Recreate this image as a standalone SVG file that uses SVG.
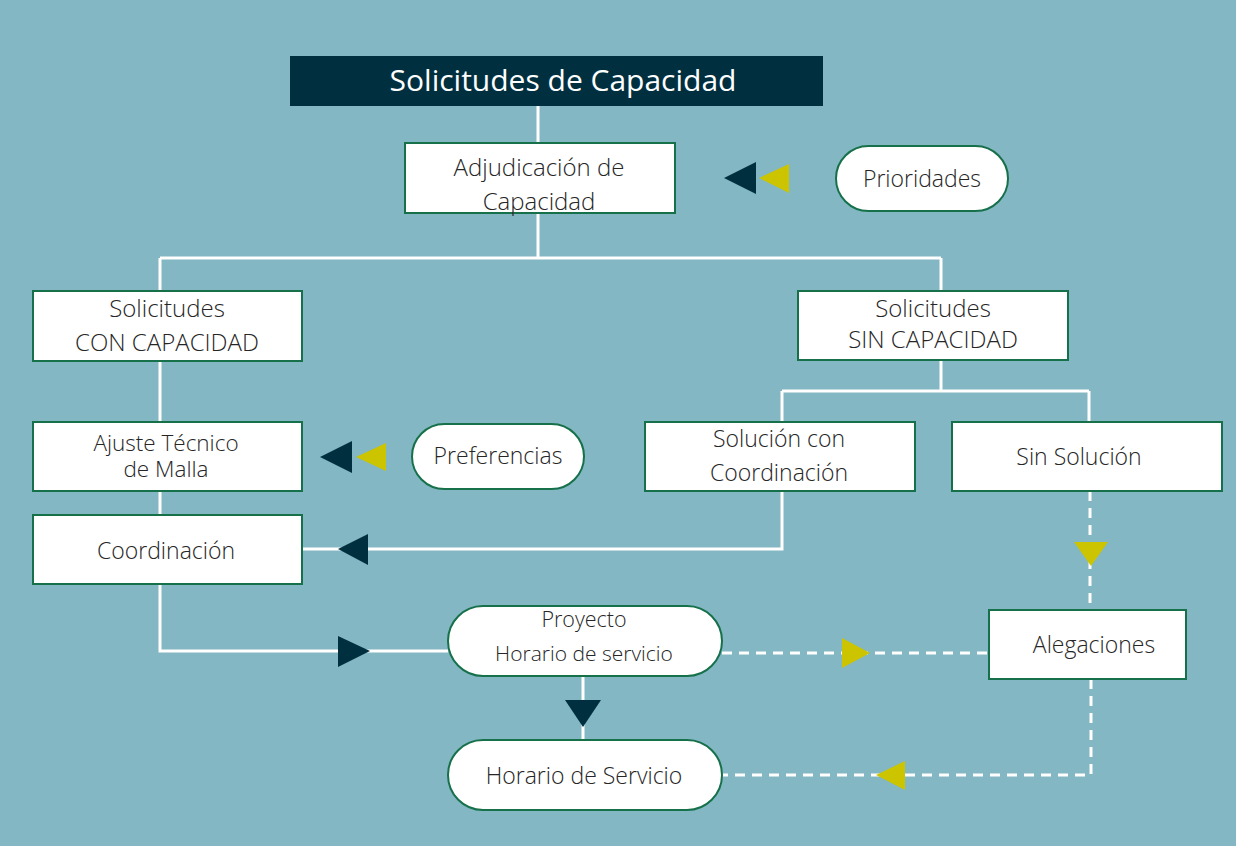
<svg xmlns="http://www.w3.org/2000/svg" width="1236" height="846" viewBox="0 0 1236 846">
<style>
.box{fill:#fff;stroke:#16704a;stroke-width:2}
.t{font-family:"Open Sans","Liberation Sans",sans-serif;font-size:23px;fill:#262626;text-anchor:middle;font-weight:300}
.b{font-size:24px}
.ln{stroke:#fff;stroke-width:3;fill:none}
.dl{stroke:#fff;stroke-width:3;fill:none;stroke-dasharray:10 7}
.dk{fill:#003040}
.yl{fill:#cdc400}
</style>
<rect x="0" y="0" width="1236" height="846" fill="#82b7c3"/>
<g id="connectors">
<path class="ln" d="M538 106V143M538 213V258M160 258H941M160 258V291M941 258V291"/>
<path class="ln" d="M160 361V422M160 491V515"/>
<path class="ln" d="M941 360V391M782 391H1089M782 391V422M1089 391V422"/>
<path class="ln" d="M782 491V549H302"/>
<path class="ln" d="M160 584V651H448"/>
<path class="ln" d="M583 676V740"/>
<path class="dl" d="M1090 491V610"/>
<path class="dl" d="M722 653H989"/>
<path class="dl" d="M1091 679V775H722"/>
<polygon class="dk" points="338,549 368,534 368,565"/>
<polygon class="dk" points="370,651 338,636 338,667"/>
<polygon class="dk" points="583,727 565,700 601,700"/>
<polygon class="yl" points="870,653 842,638 842,668"/>
<polygon class="yl" points="1091,566 1074,542 1108,542"/>
<polygon class="yl" points="876,775 905,761 905,790"/>
<polygon class="dk" points="724,178 756,162 756,194"/>
<polygon class="yl" points="759,178 789,164 789,193"/>
<polygon class="dk" points="320,457 352,441 352,473"/>
<polygon class="yl" points="356,457 386,443 386,471"/>
</g>
<g id="title">
<rect x="290" y="56" width="533" height="50" fill="#003040"/>
<text x="563" y="91" font-family="'Open Sans','Liberation Sans',sans-serif" font-size="30" fill="#fff" text-anchor="middle">Solicitudes de Capacidad</text>
</g>
<g id="adjudicacion">
<rect class="box" x="405" y="143" width="270" height="70"/>
<text class="t b" x="539" y="176">Adjudicación de</text>
<text class="t b" x="539" y="210">Capacidad</text>
</g>
<g id="prioridades">
<rect class="box" x="836" y="146" width="172" height="65" rx="32.5"/>
<text class="t" x="922" y="187">Prioridades</text>
</g>
<g id="con-capacidad">
<rect class="box" x="33" y="291" width="269" height="70"/>
<text class="t b" x="167" y="317">Solicitudes</text>
<text class="t b" x="167" y="351">CON CAPACIDAD</text>
</g>
<g id="sin-capacidad">
<rect class="box" x="798" y="291" width="270" height="69"/>
<text class="t b" x="933" y="317">Solicitudes</text>
<text class="t b" x="933" y="348">SIN CAPACIDAD</text>
</g>
<g id="ajuste">
<rect class="box" x="33" y="422" width="269" height="69"/>
<text class="t" x="166" y="451" style="font-size:22.5px">Ajuste Técnico</text>
<text class="t" x="166" y="477" style="font-size:22.5px">de Malla</text>
</g>
<g id="preferencias">
<rect class="box" x="412" y="424" width="172" height="65" rx="32.5"/>
<text class="t" x="498" y="464">Preferencias</text>
</g>
<g id="solucion-coordinacion">
<rect class="box" x="645" y="422" width="270" height="69"/>
<text class="t" x="779" y="447">Solución con</text>
<text class="t" x="779" y="481">Coordinación</text>
</g>
<g id="sin-solucion">
<rect class="box" x="952" y="422" width="270" height="69"/>
<text class="t" x="1079" y="465">Sin Solución</text>
</g>
<g id="coordinacion">
<rect class="box" x="33" y="515" width="269" height="69"/>
<text class="t" x="166" y="559">Coordinación</text>
</g>
<g id="proyecto">
<rect class="box" x="448" y="606" width="274" height="70" rx="35"/>
<text class="t" x="584" y="627" style="font-size:21.5px">Proyecto</text>
<text class="t" x="584" y="661" style="font-size:21px">Horario de servicio</text>
</g>
<g id="alegaciones">
<rect class="box" x="989" y="610" width="197" height="69"/>
<text class="t" x="1094" y="653">Alegaciones</text>
</g>
<g id="horario-servicio">
<rect class="box" x="448" y="740" width="274" height="70" rx="35"/>
<text class="t" x="584" y="784">Horario de Servicio</text>
</g>
</svg>
